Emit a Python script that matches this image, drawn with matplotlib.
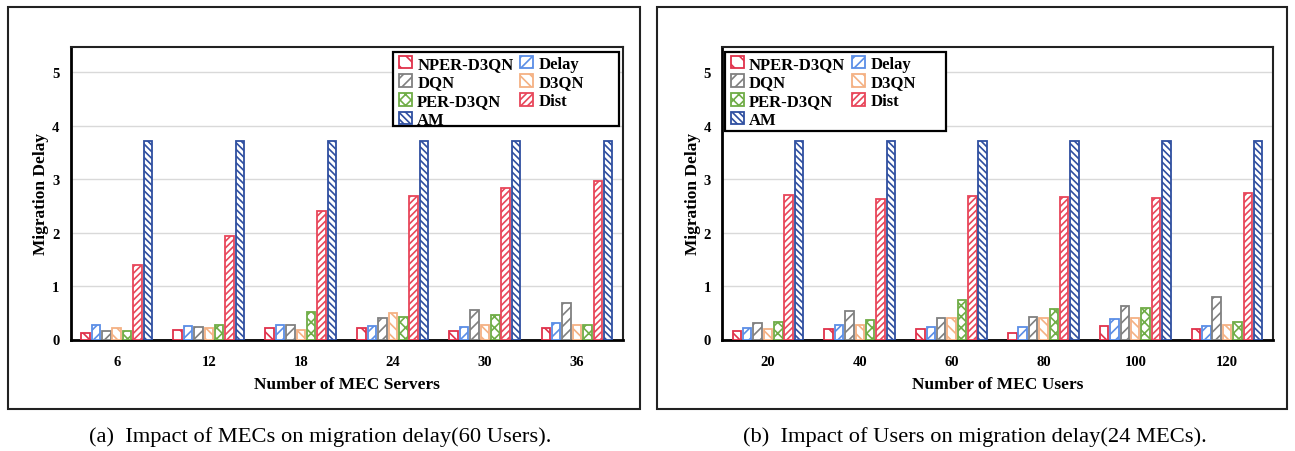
import numpy as np
import matplotlib.pyplot as plt
from matplotlib.patches import Rectangle, Patch

plt.rcParams['font.family'] = ['Liberation Serif', 'DejaVu Serif']
plt.rcParams['hatch.linewidth'] = 1.2

# methods, drawn in this order inside each group
metodos = ['NPER-D3QN', 'Delay', 'DQN', 'D3QN', 'PER-D3QN', 'Dist', 'AM']
colores = ['#e0314b', '#5b8ee6', '#808080', '#f4b183', '#70ad47', '#e8465a', '#2f4fa0']
tramas = ['\\\\', '///', '///', '\\\\\\', 'xxx', '/////', '\\\\\\\\\\']

# (a) number of MEC servers
mec_servers = ['6', '12', '18', '24', '30', '36']
a_nper = [0.12, 0.18, 0.21, 0.21, 0.16, 0.21]
a_delay = [0.27, 0.26, 0.27, 0.26, 0.24, 0.30]
a_dqn = [0.16, 0.24, 0.28, 0.40, 0.55, 0.69]
a_d3qn = [0.21, 0.21, 0.18, 0.50, 0.27, 0.27]
a_per = [0.16, 0.27, 0.52, 0.43, 0.46, 0.27]
a_dist = [1.39, 1.94, 2.41, 2.69, 2.83, 2.96]
a_am = [3.72, 3.71, 3.71, 3.71, 3.71, 3.71]

# (b) number of MEC users
mec_users = ['20', '40', '60', '80', '100', '120']
b_nper = [0.16, 0.19, 0.20, 0.13, 0.25, 0.19]
b_delay = [0.22, 0.27, 0.24, 0.24, 0.38, 0.25]
b_dqn = [0.31, 0.54, 0.40, 0.43, 0.63, 0.80]
b_d3qn = [0.19, 0.28, 0.41, 0.40, 0.40, 0.27]
b_per = [0.33, 0.37, 0.73, 0.57, 0.59, 0.33]
b_dist = [2.70, 2.63, 2.69, 2.67, 2.65, 2.74]
b_am = [3.71, 3.71, 3.71, 3.71, 3.71, 3.72]

W, H = 1295, 452
fig = plt.figure(figsize=(W / 100, H / 100), dpi=100)

# outer frames around each subfigure
for x0, x1 in [(8, 640), (657, 1287)]:
    fig.add_artist(Rectangle((x0 / W, (H - 410) / H), (x1 - x0) / W, 402 / H,
                             transform=fig.transFigure, fill=False,
                             edgecolor='#222222', linewidth=1.5))

ax1 = fig.add_axes([70.7 / W, (H - 340.5) / H, 552.3 / W, 292.5 / H])
ax2 = fig.add_axes([722 / W, (H - 340.5) / H, 551 / W, 292.5 / H])


def dibujar(ax, cats, series, xlabel, caja):
    x = np.arange(len(cats))
    paso = 0.113
    ancho = 0.092
    handles = []
    for i, (vals, c, h, nom) in enumerate(zip(series, colores, tramas, metodos)):
        ax.bar(x + (i - 3) * paso, vals, ancho, facecolor='white', edgecolor=c,
               hatch=h, linewidth=1.3, zorder=3)
        handles.append(Patch(facecolor='white', edgecolor=c, hatch=h, linewidth=1.3, label=nom))

    ax.set_xlim(-0.5, len(cats) - 0.5)
    ax.set_ylim(0, 5.47)
    ax.set_yticks([0, 1, 2, 3, 4, 5])
    ax.set_xticks(x)
    ax.set_xticklabels(cats)
    ax.tick_params(axis='x', length=0, labelsize=10.5, pad=11)
    ax.tick_params(axis='y', length=0, labelsize=10.5, pad=8)
    for lab in ax.get_xticklabels() + ax.get_yticklabels():
        lab.set_fontweight('bold')
    ax.yaxis.grid(True, color='#d9d9d9', linewidth=1.0, zorder=0)
    ax.set_axisbelow(True)
    for s in ['left', 'bottom']:
        ax.spines[s].set_linewidth(2.0)
        ax.spines[s].set_color('black')
    for s in ['top', 'right']:
        ax.spines[s].set_linewidth(1.5)
        ax.spines[s].set_color('#222222')
    ax.set_xlabel(xlabel, fontsize=12.5, fontweight='bold', labelpad=6)
    ax.set_ylabel('Migration Delay', fontsize=12.5, fontweight='bold', labelpad=2)

    # legend box drawn by hand (it is wider than its entries in the original)
    bx0, by0, bx1, by1 = caja
    ax.add_patch(Rectangle((bx0, by0), bx1 - bx0, by1 - by0, transform=ax.transAxes,
                           facecolor='white', edgecolor='black', linewidth=1.6,
                           zorder=5, clip_on=False))
    # legend is laid out column-wise: reorder so rows read as in the paper
    orden = [0, 2, 4, 6, 1, 3, 5]
    leg = ax.legend([handles[k] for k in orden], [metodos[k] for k in orden],
                    ncol=2, loc='upper left', bbox_to_anchor=(bx0 + 0.006, by1 - 0.004),
                    frameon=False, prop={'weight': 'bold', 'size': 12},
                    handlelength=0.8, handleheight=0.8, handletextpad=0.3,
                    columnspacing=0.4, labelspacing=0.15, borderpad=0.15,
                    borderaxespad=0.0)
    leg.set_zorder(6)


dibujar(ax1, mec_servers, [a_nper, a_delay, a_dqn, a_d3qn, a_per, a_dist, a_am],
        'Number of MEC Servers', (0.5836, 0.730, 0.9928, 0.983))
dibujar(ax2, mec_users, [b_nper, b_delay, b_dqn, b_d3qn, b_per, b_dist, b_am],
        'Number of MEC Users', (0.0054, 0.7125, 0.4065, 0.983))

fig.text(320 / W, 1 - 437 / H, '(a)  Impact of MECs on migration delay(60 Users).',
         ha='center', va='center', fontsize=16.2)
fig.text(975 / W, 1 - 437 / H, '(b)  Impact of Users on migration delay(24 MECs).',
         ha='center', va='center', fontsize=16.2)

fig.savefig('out.png', dpi=100)
